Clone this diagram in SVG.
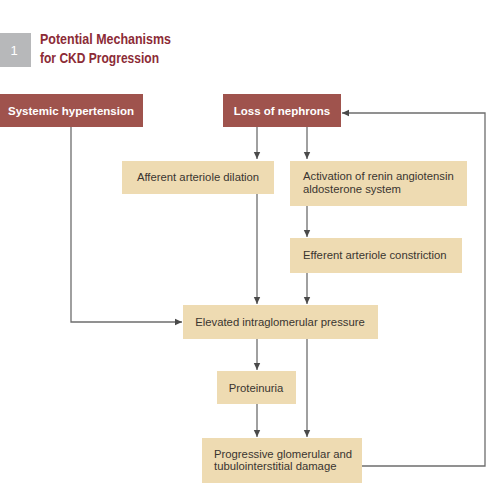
<svg xmlns="http://www.w3.org/2000/svg" width="500" height="500" viewBox="0 0 500 500">
<style>
.red{fill:#9f534d}
.beige{fill:#eedbb2}
.wt{font-family:"Liberation Sans",Arial,sans-serif;font-size:11.5px;font-weight:bold;fill:#ffffff}
.bt{font-family:"Liberation Sans",Arial,sans-serif;font-size:11.3px;fill:#3a3530}
.title{font-family:"Liberation Sans",Arial,sans-serif;font-size:15px;font-weight:bold;fill:#8c2b36}
.ln{fill:none;stroke:#6d6d6d;stroke-width:1.3}
</style>
<defs>
<marker id="ah" markerWidth="8" markerHeight="8" refX="7" refY="4" orient="auto" markerUnits="userSpaceOnUse">
<path d="M0,0.8 L7,4 L0,7.2 Z" fill="#4a4a4a"/>
</marker>
</defs>
<rect width="500" height="500" fill="#ffffff"/>
<g id="title">
<rect x="0" y="33" width="31" height="34" fill="#b7b8ba"/>
<text x="14" y="55" font-family="Liberation Sans,Arial,sans-serif" font-size="13" fill="#ffffff" text-anchor="middle">1</text>
<text class="title" x="40" y="44" textLength="131" lengthAdjust="spacingAndGlyphs">Potential Mechanisms</text>
<text class="title" x="40" y="63" textLength="119" lengthAdjust="spacingAndGlyphs">for CKD Progression</text>
</g>
<g id="connectors">
<path class="ln" d="M257,127 V159" marker-end="url(#ah)"/>
<path class="ln" d="M307,127 V159" marker-end="url(#ah)"/>
<path class="ln" d="M307,206 V237" marker-end="url(#ah)"/>
<path class="ln" d="M257,194 V304" marker-end="url(#ah)"/>
<path class="ln" d="M307,273 V304" marker-end="url(#ah)"/>
<path class="ln" d="M71,127 V322 H182" marker-end="url(#ah)"/>
<path class="ln" d="M257,339 V370" marker-end="url(#ah)"/>
<path class="ln" d="M257,404 V437" marker-end="url(#ah)"/>
<path class="ln" d="M307,339 V437" marker-end="url(#ah)"/>
<path class="ln" d="M362,466 H485 V113 H342" marker-end="url(#ah)"/>
</g>
<g id="systemic">
<rect class="red" x="0" y="94" width="143" height="33"/>
<text class="wt" x="71" y="115" text-anchor="middle">Systemic hypertension</text>
</g>
<g id="loss">
<rect class="red" x="223" y="94" width="118" height="33"/>
<text class="wt" x="282" y="115" text-anchor="middle">Loss of nephrons</text>
</g>
<g id="afferent">
<rect class="beige" x="122" y="161" width="152" height="33"/>
<text class="bt" x="198" y="181" text-anchor="middle">Afferent arteriole dilation</text>
</g>
<g id="activation">
<rect class="beige" x="290" y="161" width="177" height="45"/>
<text class="bt" x="303" y="180">Activation of renin angiotensin</text>
<text class="bt" x="303" y="193">aldosterone system</text>
</g>
<g id="efferent">
<rect class="beige" x="290" y="238" width="172" height="35"/>
<text class="bt" x="303" y="259">Efferent arteriole constriction</text>
</g>
<g id="elevated">
<rect class="beige" x="183" y="305" width="195" height="34"/>
<text class="bt" x="280" y="326" text-anchor="middle">Elevated intraglomerular pressure</text>
</g>
<g id="proteinuria">
<rect class="beige" x="217" y="371" width="79" height="33"/>
<text class="bt" x="256" y="392" text-anchor="middle">Proteinuria</text>
</g>
<g id="progressive">
<rect class="beige" x="202" y="438" width="160" height="45"/>
<text class="bt" x="214" y="458">Progressive glomerular and</text>
<text class="bt" x="214" y="470">tubulointerstitial damage</text>
</g>
</svg>
